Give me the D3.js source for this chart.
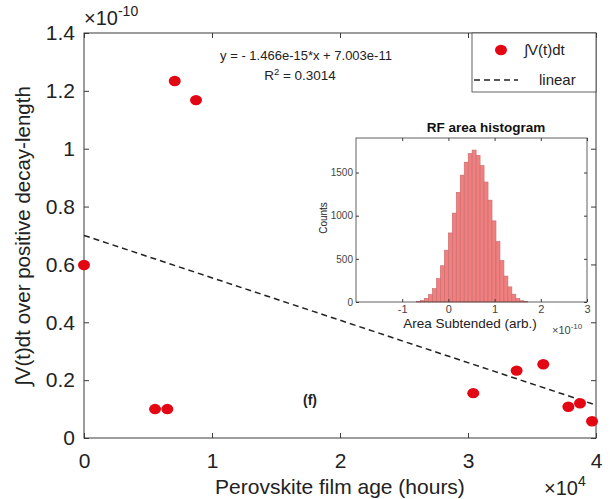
<!DOCTYPE html>
<html><head><meta charset="utf-8">
<script src="https://cdn.jsdelivr.net/npm/d3@7"></script>
<style>body{margin:0;background:#fff}svg{font-family:"Liberation Sans",Arial,sans-serif}</style>
</head><body><svg id="c" width="610" height="499"></svg>
<script>
// ---- data ----
const ageHours = [0, 5550, 6510, 7090, 8750, 30410, 33800, 35880, 37840, 38750, 39690];
const integralVals = [0.598, 0.100, 0.100, 1.234, 1.168, 0.155, 0.233, 0.255, 0.108, 0.120, 0.058]; // x1e-10
const fitSlope = -1.466e-15;
const fitIntercept = 7.003e-11;
const xTickVals = [0, 1, 2, 3, 4];          // x1e4 hours
const yTickVals = [0, 0.2, 0.4, 0.6, 0.8, 1, 1.2, 1.4]; // x1e-10
const yTickLabels = ["0", "0.2", "0.4", "0.6", "0.8", "1", "1.2", "1.4"];
const histBinStart = -0.69;   // x1e-10
const histBinWidth = 0.086;   // x1e-10
const histCounts = [6, 18, 42, 85, 155, 270, 420, 600, 800, 1030, 1270, 1470, 1620, 1720, 1760, 1700, 1580, 1390, 1180, 940, 700, 480, 300, 175, 90, 40, 15, 5];
const insetXTickVals = [-1, 0, 1, 2, 3];
const insetYTickVals = [0, 500, 1000, 1500];
const legendLabels = ["\u222BV(t)dt", "linear"];

// ---- main chart ----
const svg = d3.select("#c");
const axCol = "#3a3a3a", txtCol = "#222";
const x = d3.scaleLinear().domain([0, 40000]).range([84, 596]);
const y = d3.scaleLinear().domain([0, 1.4]).range([438, 33]);

const g = svg.append("g");
g.append("rect").attr("x", 84).attr("y", 33).attr("width", 512).attr("height", 405)
  .attr("fill", "none").attr("stroke", axCol).attr("stroke-width", 1);

const xAxB = d3.axisBottom(x).tickValues(xTickVals.map(d => d * 1e4)).tickSize(-5).tickPadding(15).tickFormat(d => String(d / 1e4));
const xAxT = d3.axisTop(x).tickValues(xTickVals.map(d => d * 1e4)).tickSize(-5).tickFormat("");
const yAxL = d3.axisLeft(y).tickValues(yTickVals).tickSize(-5).tickPadding(9).tickFormat((d, i) => yTickLabels[i]);
const yAxR = d3.axisRight(y).tickValues(yTickVals).tickSize(-5).tickFormat("");
function style(sel, fs) {
  sel.select(".domain").remove();
  sel.selectAll("line").attr("stroke", axCol);
  sel.selectAll("text").attr("fill", txtCol).style("font-size", fs + "px").style("font-family", "Liberation Sans, Arial, sans-serif");
}
g.append("g").attr("transform", "translate(0,438)").call(xAxB).call(style, 21);
g.append("g").attr("transform", "translate(0,33)").call(xAxT).call(style, 21);
g.append("g").attr("transform", "translate(84,0)").call(yAxL).call(style, 21);
g.append("g").attr("transform", "translate(596,0)").call(yAxR).call(style, 21);

// exponent labels
const e1 = g.append("text").attr("x", 84).attr("y", 25).attr("fill", txtCol).style("font-size", "20px");
e1.append("tspan").text("\u00D710");
e1.append("tspan").attr("dy", -9).style("font-size", "14px").text("-10");
const e2 = g.append("text").attr("x", 544).attr("y", 495).attr("fill", txtCol).style("font-size", "20px");
e2.append("tspan").text("\u00D710");
e2.append("tspan").attr("dy", -9).style("font-size", "14px").text("4");

// axis labels
g.append("text").attr("x", 340).attr("y", 494).attr("text-anchor", "middle").attr("fill", txtCol)
  .style("font-size", "21px").text("Perovskite film age (hours)");
g.append("text").attr("transform", "translate(30,236) rotate(-90)").attr("text-anchor", "middle").attr("fill", txtCol)
  .style("font-size", "20.5px").text("\u222BV(t)dt over positive decay-length");

// fit line
const fit = d => (fitIntercept + fitSlope * d) / 1e-10;
g.append("line").attr("x1", x(0)).attr("y1", y(fit(0))).attr("x2", x(40000)).attr("y2", y(fit(40000)))
  .attr("stroke", "#222").attr("stroke-width", 1.5).attr("stroke-dasharray", "6,4");

// equation
g.append("text").attr("x", 306).attr("y", 60).attr("text-anchor", "middle").attr("fill", txtCol)
  .style("font-size", "13px").text("y = - 1.466e-15*x + 7.003e-11");
const r2 = g.append("text").attr("x", 300).attr("y", 80).attr("text-anchor", "middle").attr("fill", txtCol).style("font-size", "13.5px");
r2.append("tspan").text("R");
r2.append("tspan").attr("dy", -5).style("font-size", "9.5px").text("2");
r2.append("tspan").attr("dy", 5).text(" = 0.3014");

// (f)
g.append("text").attr("x", 310).attr("y", 405).attr("text-anchor", "middle").attr("fill", txtCol)
  .style("font-size", "14px").style("font-weight", "bold").text("(f)");

// inset
const ix = d3.scaleLinear().domain([-2, 3]).range([356, 587]);
const iy = d3.scaleLinear().domain([0, 1900]).range([302, 138]);
const ig = svg.append("g");
ig.append("rect").attr("x", 356).attr("y", 138).attr("width", 231).attr("height", 164).attr("fill", "#fff");
ig.selectAll("rect.bar").data(histCounts).enter().append("rect").attr("class", "bar")
  .attr("x", (d, i) => ix(histBinStart + i * histBinWidth))
  .attr("width", (d, i) => ix(histBinStart + (i + 1) * histBinWidth) - ix(histBinStart + i * histBinWidth))
  .attr("y", d => iy(d)).attr("height", d => iy(0) - iy(d))
  .attr("fill", "#f27f7f").attr("stroke", "#c46a6a").attr("stroke-width", 0.6);
ig.append("rect").attr("x", 356).attr("y", 138).attr("width", 231).attr("height", 164)
  .attr("fill", "none").attr("stroke", axCol).attr("stroke-width", 0.8);
const iXB = d3.axisBottom(ix).tickValues(insetXTickVals).tickSize(-3).tickPadding(3).tickFormat(d => String(d));
const iXT = d3.axisTop(ix).tickValues(insetXTickVals).tickSize(-3).tickFormat("");
const iYL = d3.axisLeft(iy).tickValues(insetYTickVals).tickSize(-3).tickPadding(3).tickFormat(d => String(d));
const iYR = d3.axisRight(iy).tickValues(insetYTickVals).tickSize(-3).tickFormat("");
ig.append("g").attr("transform", "translate(0,302)").call(iXB).call(style, 11);
ig.append("g").attr("transform", "translate(0,138)").call(iXT).call(style, 11);
ig.append("g").attr("transform", "translate(356,0)").call(iYL).call(style, 10);
ig.append("g").attr("transform", "translate(587,0)").call(iYR).call(style, 10);
ig.selectAll("text").attr("fill", "#444");
ig.append("text").attr("x", 486).attr("y", 132).attr("text-anchor", "middle").attr("fill", "#111")
  .style("font-size", "13.5px").style("font-weight", "bold").text("RF area histogram");
ig.append("text").attr("x", 470).attr("y", 328).attr("text-anchor", "middle").attr("fill", "#222")
  .style("font-size", "13.5px").text("Area Subtended (arb.)");
ig.append("text").attr("transform", "translate(327,218) rotate(-90)").attr("text-anchor", "middle").attr("fill", "#222")
  .style("font-size", "10px").text("Counts");
const e3 = ig.append("text").attr("x", 552).attr("y", 334).attr("fill", "#444").style("font-size", "11px");
e3.append("tspan").text("\u00D710");
e3.append("tspan").attr("dy", -5).style("font-size", "8px").text("-10");

// points
g.selectAll("ellipse.pt").data(ageHours).enter().append("ellipse").attr("class", "pt")
  .attr("cx", d => x(d)).attr("cy", (d, i) => y(integralVals[i]))
  .attr("rx", 6).attr("ry", 5.2).attr("fill", "#e30613");

// legend
const lg = svg.append("g");
lg.append("rect").attr("x", 472).attr("y", 33).attr("width", 124).attr("height", 59)
  .attr("fill", "#fff").attr("stroke", axCol).attr("stroke-width", 0.8);
lg.append("ellipse").attr("cx", 501).attr("cy", 50).attr("rx", 6).attr("ry", 5.2).attr("fill", "#e30613");
lg.append("text").attr("x", 524).attr("y", 55).attr("fill", txtCol).style("font-size", "15px").text(legendLabels[0]);
lg.append("line").attr("x1", 474).attr("x2", 518).attr("y1", 80).attr("y2", 80)
  .attr("stroke", "#222").attr("stroke-width", 1.3).attr("stroke-dasharray", "6,4");
lg.append("text").attr("x", 539).attr("y", 85).attr("fill", txtCol).style("font-size", "15px").text(legendLabels[1]);
</script></body></html>
